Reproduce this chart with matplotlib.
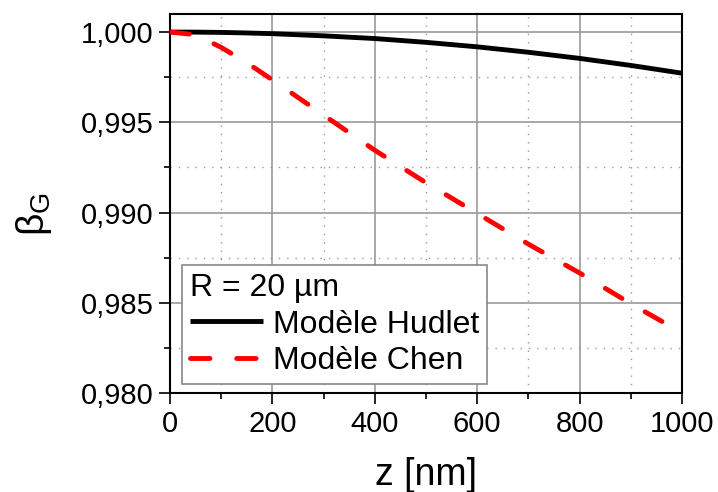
import matplotlib
matplotlib.use("Agg")
import matplotlib.pyplot as plt
from matplotlib.ticker import MultipleLocator, FixedLocator

plt.rcParams['font.family'] = ['Liberation Sans', 'DejaVu Sans']
plt.rcParams['mathtext.fontset'] = 'custom'
plt.rcParams['mathtext.rm'] = 'Liberation Sans'
plt.rcParams['mathtext.it'] = 'Liberation Sans'

z_nm = [0, 50, 100, 150, 200, 300, 400, 500, 600, 700, 800, 900, 1000]
beta_hudlet = [1.00000, 0.999995, 0.99998, 0.99995, 0.99991, 0.99979, 0.99964,
               0.99943, 0.99918, 0.99888, 0.99854, 0.99815, 0.99772]
beta_chen = [1.00000, 0.99985, 0.99915, 0.99830, 0.99735, 0.99540, 0.99345,
             0.99165, 0.98995, 0.98825, 0.98665, 0.98495, 0.98333]

xticks = [0, 200, 400, 600, 800, 1000]
xtick_labels = ['0', '200', '400', '600', '800', '1000']
yticks = [0.980, 0.985, 0.990, 0.995, 1.000]
ytick_labels = ['0,980', '0,985', '0,990', '0,995', '1,000']

fig = plt.figure(figsize=(7.18, 4.92), dpi=100)
ax = fig.add_axes([170/718, 1 - 393/492, 512/718, 379/492])

ax.plot(z_nm, beta_hudlet, color='black', lw=3.5, label='Modèle Hudlet',
        solid_capstyle='butt', zorder=3)
ax.plot(z_nm, beta_chen, color='#ff0000', lw=3.5, dashes=(4.0, 5.5),
        dash_capstyle='round', label='Modèle Chen', zorder=3)

ax.set_xlim(0, 1000)
ax.set_ylim(0.980, 1.001)
ax.set_xticks(xticks)
ax.set_xticklabels(xtick_labels)
ax.set_yticks(yticks)
ax.set_yticklabels(ytick_labels)
ax.xaxis.set_minor_locator(MultipleLocator(100))
ax.yaxis.set_minor_locator(FixedLocator([0.9825, 0.9875, 0.9925, 0.9975]))

ax.grid(True, which='major', color='#999999', lw=1.2, ls='-', zorder=0)
ax.grid(True, which='minor', color='#999999', lw=1.0, ls=(0, (1, 5)), zorder=0)

ax.tick_params(which='major', direction='out', length=8, width=1.2, labelsize=21, pad=4)
ax.tick_params(which='minor', direction='out', length=4.5, width=1.2)
for s in ax.spines.values():
    s.set_linewidth(1.5)

ax.set_xlabel('z [nm]', fontsize=27, labelpad=14)
ax.set_ylabel(r'$\mathrm{\beta_G}$', fontsize=28)
ax.yaxis.set_label_coords((54 - 170) / 512, (393 - 214) / 379)

leg = ax.legend(loc='lower left', bbox_to_anchor=(12/512, 9/379), title='R = 20 µm',
                alignment='left', fontsize=23, title_fontsize=23, handlelength=2.3,
                fancybox=False, edgecolor='#888888', framealpha=1, borderpad=0.25,
                labelspacing=0.2, handletextpad=0.3, borderaxespad=0)
leg.get_frame().set_linewidth(1.2)
leg.set_zorder(5)

fig.savefig('out.png', dpi=100)
